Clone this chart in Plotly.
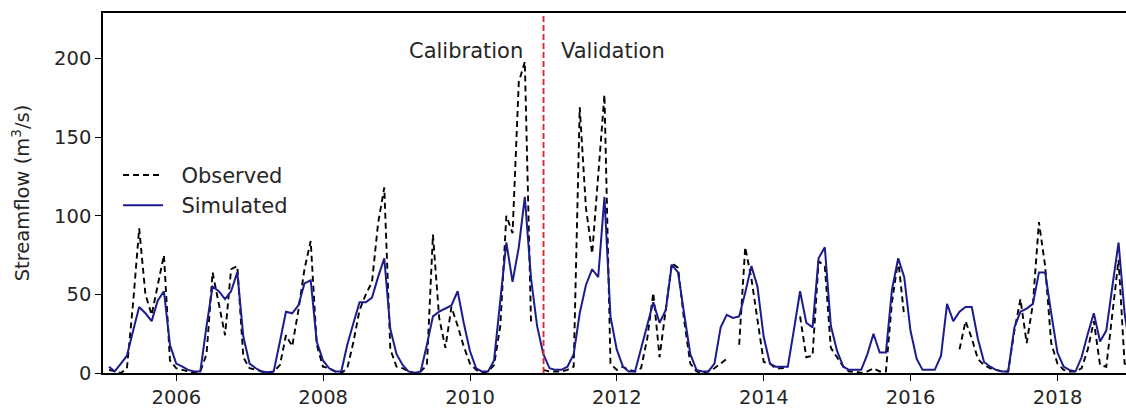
import pandas as pd
import plotly.graph_objects as go

# Monthly series, Jan 2005 .. Dec 2018 (values in m3/s)
observed = [
    2, 1, 0, 3, 45, 92, 50, 37, 55, 75, 8, 3,          # 2005
    2, 1, 0, 1, 12, 64, 45, 24, 66, 68, 10, 3,         # 2006
    2, 1, 0, 1, 5, 24, 17, 40, 66, 84, 18, 4,          # 2007
    3, 1, 0, 3, 20, 40, 50, 58, 95, 118, 15, 4,        # 2008
    3, 1, 0, 1, 5, 88, 35, 16, 42, 30, 17, 6,          # 2009
    2, 0, 1, 5, 30, 100, 89, 185, 198, 31, None, 2,    # 2010
    1, 1, 1, 2, 4, 169, 105, 76, 125, 177, 6, 2,       # 2011
    4, 2, 1, 3, 22, 51, 10, 40, 70, 67, 34, 6,         # 2012
    1, 0, 1, 3, 6, 9, None, 18, 80, 60, 33, 7,         # 2013
    6, 3, 3, 4, None, 36, 10, 11, 71, 68, 16, 10,      # 2014
    4, 1, 1, 0, 1, 3, 1, 1, 45, 72, 36, None,          # 2015
    None, None, None, None, None, None, None, 15, 33, 22, 9, 5,  # 2016
    3, 2, 1, 1, 27, 47, 19, 44, 96, 68, 19, 6,         # 2017
    2, 1, 1, 3, 15, 33, 5, 4, 38, 72, 6, 3,            # 2018
]
simulated = [
    4, 1, 6, 11, 27, 42, 38, 33, 46, 52, 18, 6,        # 2005
    4, 2, 1, 1, 30, 55, 52, 47, 52, 64, 23, 6,         # 2006
    3, 1, 0.5, 1, 20, 39, 38, 43, 57, 59, 20, 8,       # 2007
    3, 1, 1, 18, 32, 45, 45, 48, 61, 73, 28, 12,       # 2008
    5, 1, 0, 1, 18, 36, 39, 41, 43, 52, 32, 14,        # 2009
    3, 1, 1, 8, 45, 83, 58, 80, 112, 60, 30, 12,       # 2010
    3, 2, 2, 4, 12, 38, 56, 66, 61, 112, 36, 15,       # 2011
    4, 1, 1, 15, 30, 45, 32, 40, 69, 64, 38, 12,       # 2012
    2, 1, 1, 6, 29, 37, 35, 36, 51, 68, 55, 23,        # 2013
    6, 4, 4, 4, 28, 52, 32, 29, 73, 80, 30, 14,        # 2014
    4, 2, 2, 2, 12, 25, 13, 13, 53, 73, 61, 27,        # 2015
    9, 2, 2, 2, 11, 44, 33, 39, 42, 42, 22, 7,         # 2016
    4, 2, 1, 1, 29, 39, 41, 44, 64, 64, 38, 13,        # 2017
    4, 2, 1, 10, 25, 38, 20, 27, 55, 83, 38, 12,       # 2018
]
split_date = "2011-01-01"
y_ticks = [0, 50, 100, 150, 200]

# month-end dates
dates = pd.date_range("2005-02-01", periods=len(observed), freq="MS") - pd.Timedelta(days=1)

FONT = "DejaVu Sans"
FS = 19.5
FS_BIG = 21
TXT = "#262626"

fig = go.Figure()
fig.add_trace(go.Scatter(
    x=dates, y=observed, mode="lines", name="&nbsp;&nbsp;Observed",
    line=dict(color="black", width=1.9, dash="6px,4px"),
    legendgroup="a",
))
fig.add_trace(go.Scatter(
    x=dates, y=simulated, mode="lines", name="&nbsp;&nbsp;Simulated",
    line=dict(color="#1c1c8e", width=2.0),
    legendgroup="b",
))

fig.add_shape(type="line", xref="x", yref="paper", x0=split_date, x1=split_date,
              y0=0, y1=1, line=dict(color="#e3262a", width=1.9, dash="6px,3px"))

fig.add_annotation(x=split_date, y=205, xref="x", yref="y", text="Calibration",
                   showarrow=False, xanchor="right", yanchor="middle", xshift=-19,
                   font=dict(family=FONT, size=FS_BIG, color=TXT))
fig.add_annotation(x=split_date, y=205, xref="x", yref="y", text="Validation",
                   showarrow=False, xanchor="left", yanchor="middle", xshift=15,
                   font=dict(family=FONT, size=FS_BIG, color=TXT))

fig.update_layout(
    width=1126, height=414,
    margin=dict(l=103, r=0, t=13, b=41),
    paper_bgcolor="white", plot_bgcolor="white",
    font=dict(family=FONT, size=FS, color=TXT),
    showlegend=True,
    legend=dict(x=0.0147, y=0.606, xanchor="left", yanchor="top",
                bgcolor="rgba(0,0,0,0)", borderwidth=0,
                font=dict(family=FONT, size=FS_BIG, color=TXT),
                tracegroupgap=0, traceorder="grouped", itemwidth=40),
)
fig.update_xaxes(
    type="date", range=["2005-01-01", "2018-12-07"],
    tick0="2006-01-01", dtick="M24", tickformat="%Y",
    showgrid=False, zeroline=False,
    showline=True, linecolor="black", linewidth=1.6, mirror=True,
    ticks="outside", ticklen=6, tickwidth=1.4, tickcolor="black",
    tickfont=dict(family=FONT, size=FS, color=TXT),
)
fig.update_yaxes(
    range=[0, 229], tickvals=y_ticks,
    showgrid=False, zeroline=False,
    showline=True, linecolor="black", linewidth=1.6, mirror=False,
    ticks="outside", ticklen=6, tickwidth=1.4, tickcolor="black",
    tickfont=dict(family=FONT, size=FS, color=TXT),
    title=dict(text="Streamflow (m<sup>3</sup>/s)", standoff=19,
               font=dict(family=FONT, size=FS, color=TXT)),
)

fig.write_html("out.html")
